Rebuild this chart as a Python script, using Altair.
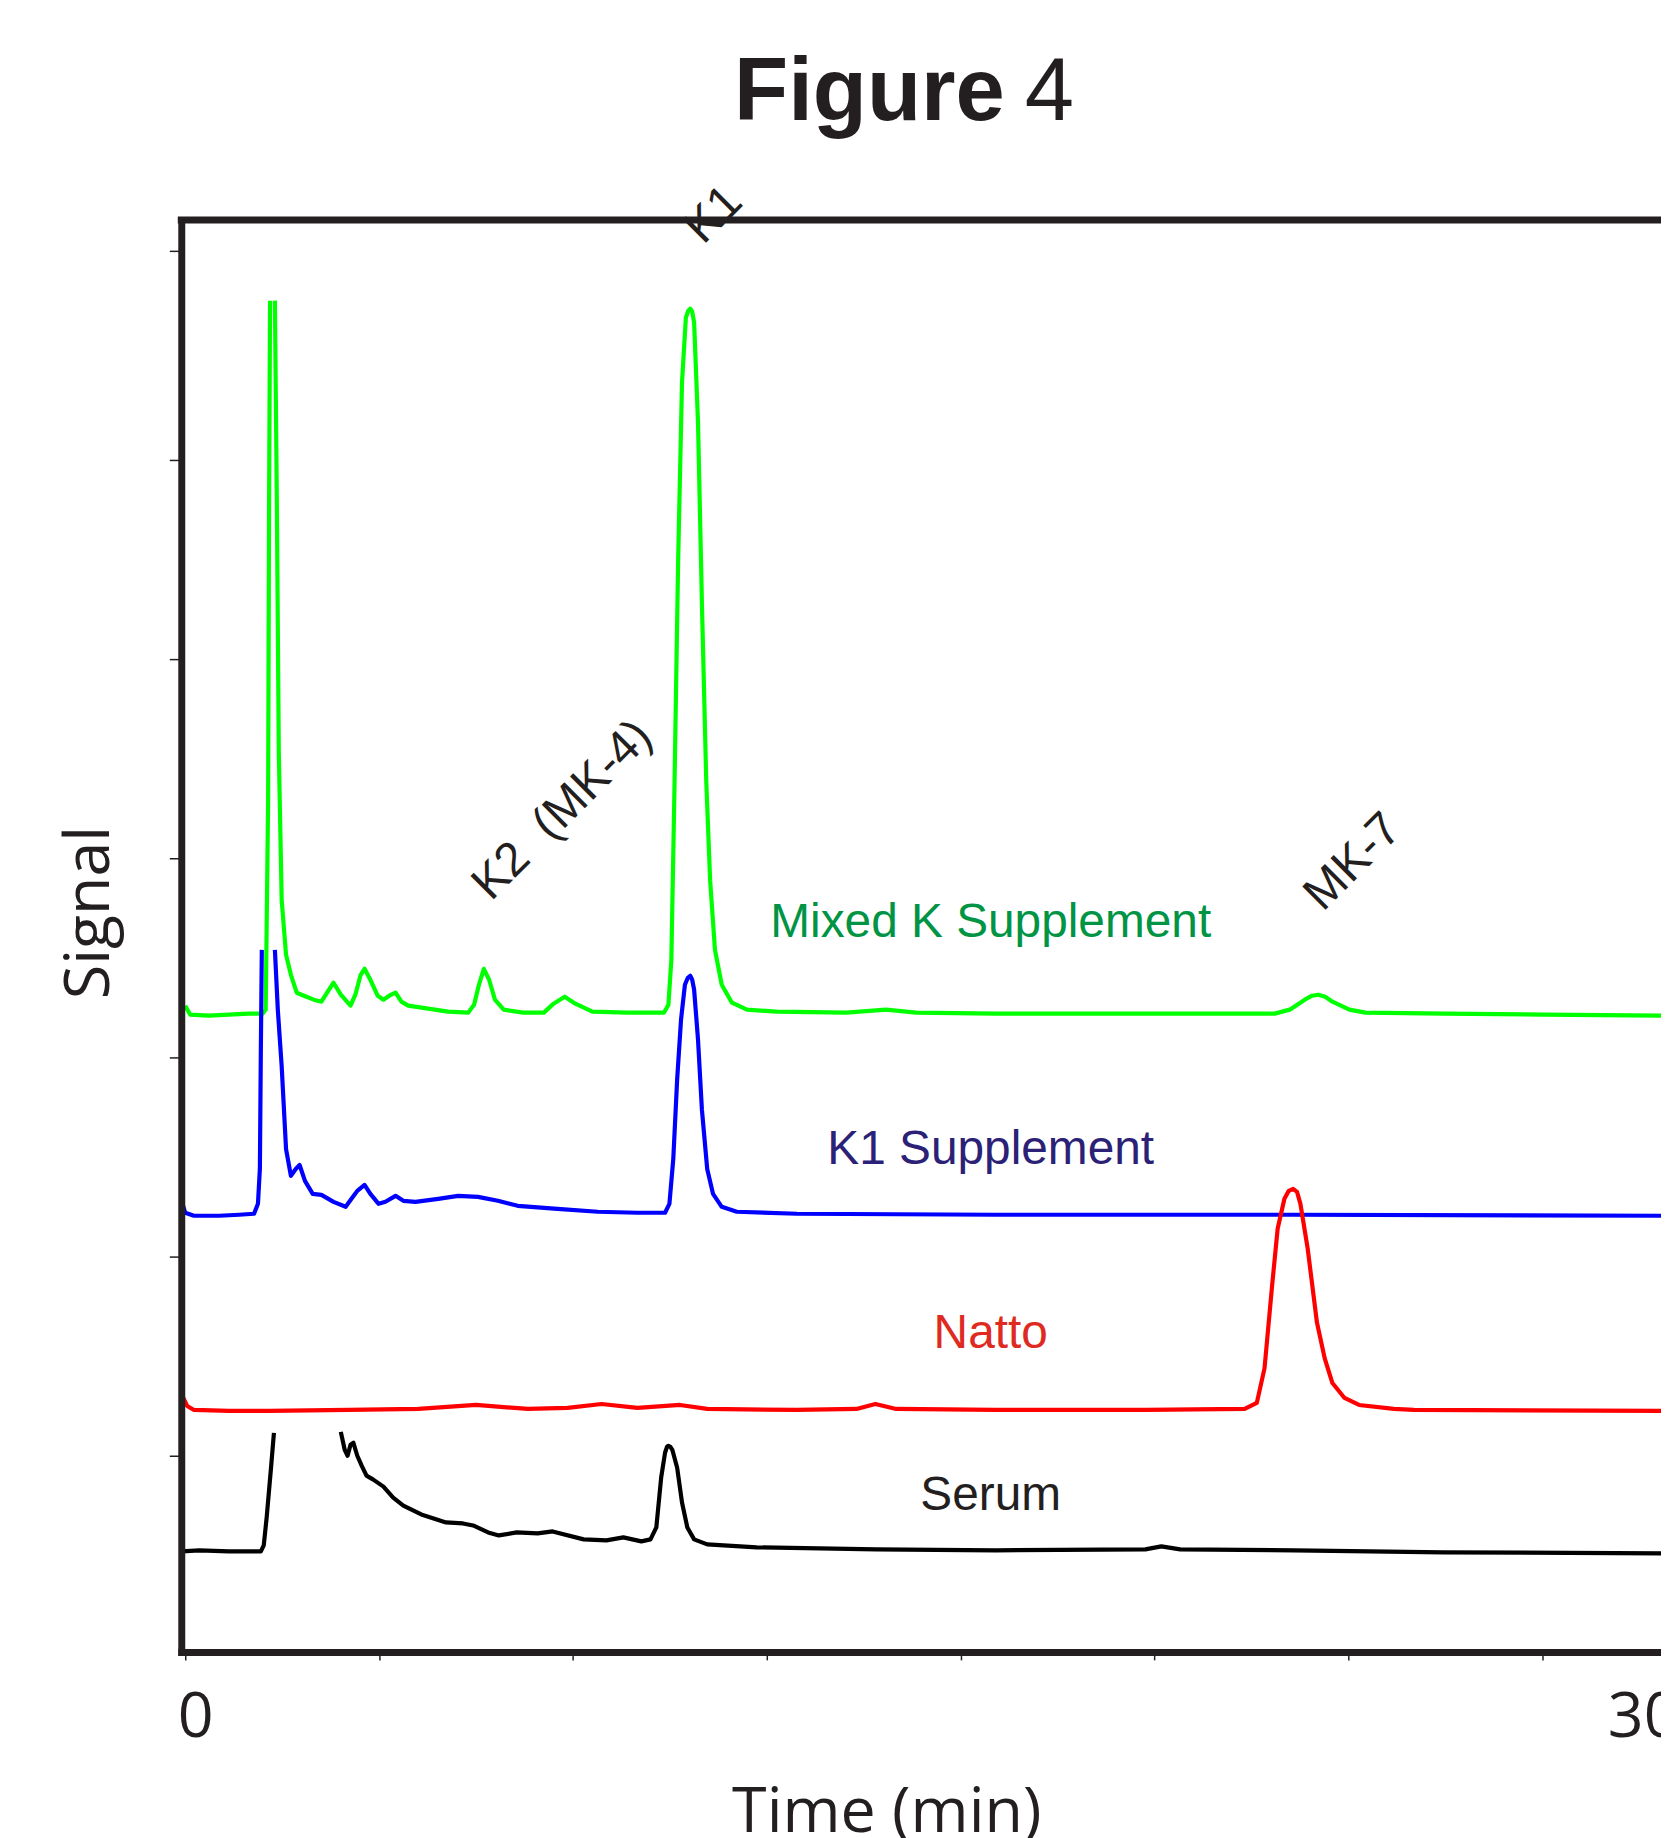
import altair as alt
import pandas as pd

# ---------------- data (time in minutes, signal in arbitrary units) ----------------
series_names = ["Mixed K Supplement", "K1 Supplement", "Natto", "Serum"]
line_colors = ["#00FF00", "#0000FF", "#FF0000", "#000000"]

# Mixed K Supplement (two pieces: the first spike is off-scale)
mixed_t1 = [0.00, 0.10, 0.49, 0.90, 1.31, 1.60, 1.66, 1.71, 1.73, 1.75]
mixed_s1 = [3.26, 3.215, 3.21, 3.215, 3.22, 3.22, 3.24, 4.29, 5.79, 6.80]
mixed_t2 = [1.85, 1.89, 1.93, 1.99, 2.08, 2.18, 2.30, 2.45, 2.65, 2.81, 2.94, 3.06, 3.21, 3.41,
            3.51, 3.62, 3.70, 3.82, 3.97, 4.09, 4.21, 4.34, 4.46, 4.60, 5.01, 5.42, 5.84, 5.96,
            6.06, 6.16, 6.27, 6.39, 6.57, 6.97, 7.40, 7.60, 7.83, 8.05, 8.40, 9.12, 9.88, 9.97,
            10.03, 10.09, 10.17, 10.25, 10.33, 10.38, 10.42, 10.46, 10.50, 10.58, 10.66, 10.75,
            10.83, 10.93, 11.07, 11.28, 11.59, 12.20, 13.64, 14.46, 15.08, 16.72, 18.78, 22.48,
            22.79, 23.10, 23.25, 23.38, 23.52, 23.67, 24.02, 24.35, 25.97, 28.03, 30.47]
mixed_s2 = [6.80, 5.79, 4.54, 3.79, 3.515, 3.415, 3.325, 3.31, 3.29, 3.28, 3.33, 3.375, 3.315, 3.26,
            3.315, 3.415, 3.445, 3.39, 3.31, 3.29, 3.31, 3.325, 3.28, 3.26, 3.245, 3.23, 3.225, 3.265,
            3.365, 3.445, 3.39, 3.29, 3.24, 3.225, 3.225, 3.27, 3.305, 3.27, 3.23, 3.225, 3.225, 3.265,
            3.49, 4.29, 5.49, 6.39, 6.715, 6.75, 6.76, 6.745, 6.69, 6.19, 5.29, 4.39,
            3.89, 3.54, 3.365, 3.275, 3.24, 3.23, 3.225, 3.24, 3.225, 3.22, 3.22, 3.22,
            3.24, 3.29, 3.31, 3.315, 3.305, 3.28, 3.24, 3.225, 3.22, 3.215, 3.21]

# K1 Supplement
k1_t1 = [-0.05, 0.00, 0.18, 0.70, 1.11, 1.42, 1.50, 1.54, 1.56, 1.58]
k1_s1 = [2.26, 2.22, 2.205, 2.205, 2.21, 2.215, 2.265, 2.44, 3.04, 3.54]
k1_t2 = [1.85, 1.91, 1.99, 2.08, 2.18, 2.28, 2.36, 2.47, 2.63, 2.81, 3.06, 3.31, 3.43, 3.55, 3.70,
         3.82, 3.99, 4.13, 4.34, 4.50, 4.75, 5.22, 5.63, 6.04, 6.45, 6.86, 7.68, 8.51, 9.33, 9.90,
         9.99, 10.07, 10.15, 10.23, 10.31, 10.37, 10.42, 10.46, 10.50, 10.58, 10.66, 10.77, 10.89,
         11.07, 11.38, 12.62, 16.72, 22.89, 30.47]
k1_s2 = [3.54, 3.24, 2.955, 2.54, 2.405, 2.44, 2.46, 2.38, 2.315, 2.31, 2.275, 2.25, 2.29, 2.33, 2.36,
         2.315, 2.265, 2.275, 2.305, 2.28, 2.275, 2.29, 2.305, 2.30, 2.28, 2.255, 2.24, 2.225, 2.22, 2.22,
         2.265, 2.49, 2.89, 3.19, 3.365, 3.40, 3.41, 3.39, 3.34, 3.09, 2.74, 2.44, 2.315,
         2.25, 2.225, 2.215, 2.21, 2.21, 2.205]

# Natto
natto_t = [-0.04, 0.04, 0.18, 0.90, 1.73, 3.37, 4.81, 6.00, 7.07, 7.89, 8.59, 9.33, 10.21, 10.77,
           12.62, 13.85, 14.24, 14.67, 16.72, 19.81, 21.86, 22.11, 22.27, 22.42, 22.54, 22.68, 22.77,
           22.86, 22.94, 23.01, 23.16, 23.35, 23.51, 23.67, 23.92, 24.22, 24.94, 25.35, 30.47]
natto_s = [1.29, 1.25, 1.23, 1.225, 1.225, 1.23, 1.235, 1.255, 1.235, 1.24, 1.26, 1.24, 1.255, 1.235,
           1.23, 1.235, 1.26, 1.235, 1.23, 1.23, 1.235, 1.265, 1.44, 1.84, 2.14, 2.29, 2.33,
           2.34, 2.325, 2.265, 2.04, 1.67, 1.49, 1.365, 1.29, 1.255, 1.235, 1.23, 1.225]

# Serum (two pieces: the solvent front is off-scale)
serum_t1 = [-0.08, 0.29, 0.90, 1.56, 1.62, 1.68, 1.77, 1.83]
serum_s1 = [0.52, 0.525, 0.52, 0.52, 0.55, 0.69, 0.94, 1.115]
serum_t2 = [3.21, 3.29, 3.35, 3.41, 3.47, 3.55, 3.64, 3.74, 3.88, 4.09, 4.29, 4.50, 4.87, 5.38, 5.73,
            5.94, 6.25, 6.47, 6.84, 7.27, 7.58, 8.22, 8.69, 9.04, 9.41, 9.60, 9.72, 9.82, 9.90, 9.94,
            9.97, 10.01, 10.05, 10.15, 10.25, 10.36, 10.50, 10.77, 11.79, 14.26, 16.72, 19.81, 20.14,
            20.53, 22.89, 25.97, 30.47]
serum_s2 = [1.12, 1.03, 1.00, 1.055, 1.065, 1.00, 0.95, 0.90, 0.88, 0.845, 0.79, 0.75, 0.705, 0.665, 0.66,
            0.65, 0.615, 0.60, 0.615, 0.61, 0.62, 0.58, 0.575, 0.59, 0.57, 0.58, 0.64, 0.89, 1.015, 1.045,
            1.05, 1.045, 1.03, 0.94, 0.765, 0.64, 0.58, 0.555, 0.54, 0.53, 0.525, 0.53, 0.545,
            0.53, 0.525, 0.515, 0.51]

# trace labels
label_texts = ["Mixed K Supplement", "K1 Supplement", "Natto", "Serum"]
label_colors = ["#009444", "#2B2176", "#DE2A21", "#231F20"]
label_t = [16.62, 16.62, 16.62, 16.62]
label_s = [3.605, 2.465, 1.54, 0.73]

# peak annotations
peak_texts = ["K1", "K2\u00a0 (MK-4)", "MK-7"]
peak_t = [10.91, 7.79, 24.10]
peak_s = [7.23, 4.24, 3.98]

x_ticks = [0, 4, 8, 12, 16, 20, 24, 28, 30]
y_ticks = [1, 2, 3, 4, 5, 6, 7.05]

# ---------------- build ----------------
pieces = [
    ("Mixed K Supplement", "m1", mixed_t1, mixed_s1),
    ("Mixed K Supplement", "m2", mixed_t2, mixed_s2),
    ("K1 Supplement", "k1", k1_t1, k1_s1),
    ("K1 Supplement", "k2", k1_t2, k1_s2),
    ("Natto", "n1", natto_t, natto_s),
    ("Serum", "s1", serum_t1, serum_s1),
    ("Serum", "s2", serum_t2, serum_s2),
]
rows = []
for name, seg, ts, ss in pieces:
    for t, s in zip(ts, ss):
        rows.append({"series": name, "seg": seg, "t": t, "s": s})
df = pd.DataFrame(rows)

frame = "#231F20"
axis_font = "Open Sans"
text_font = "Liberation Sans"

x_scale = alt.Scale(domain=[-0.082, 30.45], nice=False, zero=False)
y_scale = alt.Scale(domain=[0.015, 7.205], nice=False, zero=False)

x_axis = alt.Axis(
    values=x_ticks,
    labelExpr="datum.value == 0 || datum.value == 30 ? datum.label : ''",
    tickOpacity={"condition": {"test": "datum.value == 30", "value": 0}, "value": 1},
    labelOffset={"condition": {"test": "datum.value == 0", "value": 10}, "value": 4},
    grid=False, domainColor=frame, domainWidth=7, domainCap="square",
    tickColor=frame, tickWidth=1.5, tickSize=8,
    labelFont=axis_font, labelFontSize=63, labelColor=frame, labelPadding=27,
    labelFlush=False, labelOverlap=False,
    title="Time (min)", titleFont=axis_font, titleFontSize=63, titleFontWeight="normal",
    titleColor=frame, titleX=708, titleY=180, titleBaseline="alphabetic", titleAlign="center",
    zindex=1,
)
y_axis = alt.Axis(
    values=y_ticks, labels=False,
    grid=False, domainColor=frame, domainWidth=7, domainCap="square",
    tickColor=frame, tickWidth=1.5, tickSize=12,
    title="Signal", titleFont=axis_font, titleFontSize=63, titleFontWeight="normal",
    titleColor=frame, titleAngle=270, titleX=-73, titleY=695,
    titleBaseline="alphabetic", titleAlign="center",
    zindex=1,
)
x_enc = alt.X("t:Q", scale=x_scale, axis=x_axis)
y_enc = alt.Y("s:Q", scale=y_scale, axis=y_axis)

lines = alt.Chart(df).mark_line(strokeWidth=4.2, clip=True, strokeJoin="round").encode(
    x=x_enc,
    y=y_enc,
    color=alt.Color("series:N", scale=alt.Scale(domain=series_names, range=line_colors), legend=None),
    detail="seg:N",
)

top_line = alt.Chart(pd.DataFrame({"s": [7.205]})).mark_rule(
    color=frame, strokeWidth=7, strokeCap="square"
).encode(y=y_enc)

layers = [lines, top_line]

for txt, col, t, s in zip(label_texts, label_colors, label_t, label_s):
    layers.append(
        alt.Chart(pd.DataFrame({"t": [t], "s": [s], "txt": [txt]})).mark_text(
            font=text_font, fontSize=48, color=col, align="center", baseline="alphabetic"
        ).encode(x=x_enc, y=y_enc, text="txt:N")
    )

peaks_df = pd.DataFrame({"t": peak_t, "s": peak_s, "txt": peak_texts})
layers.append(
    alt.Chart(peaks_df).mark_text(
        font=text_font, fontSize=48, color=frame, align="center", baseline="middle", angle=315
    ).encode(x=x_enc, y=y_enc, text="txt:N")
)

title_bold = alt.Chart(pd.DataFrame({"t": [16.91], "s": [7.705], "txt": ["Figure"]})).mark_text(
    font=text_font, fontSize=89, fontWeight="bold", color=frame, align="right", baseline="alphabetic"
).encode(x=x_enc, y=y_enc, text="txt:N")
title_num = alt.Chart(pd.DataFrame({"t": [17.32], "s": [7.705], "txt": ["4"]})).mark_text(
    font=text_font, fontSize=89, fontWeight="normal", color=frame, align="left", baseline="alphabetic"
).encode(x=x_enc, y=y_enc, text="txt:N")
layers += [title_bold, title_num]

chart = alt.layer(*layers).properties(
    width=1486,
    height=1438,
    autosize=alt.AutoSizeParams(type="none"),
    padding={"left": 174, "top": 209, "right": 0, "bottom": 183},
    background="white",
).configure_view(stroke=None)

chart.save("out.html", embed_options={"renderer": "svg", "actions": False})
